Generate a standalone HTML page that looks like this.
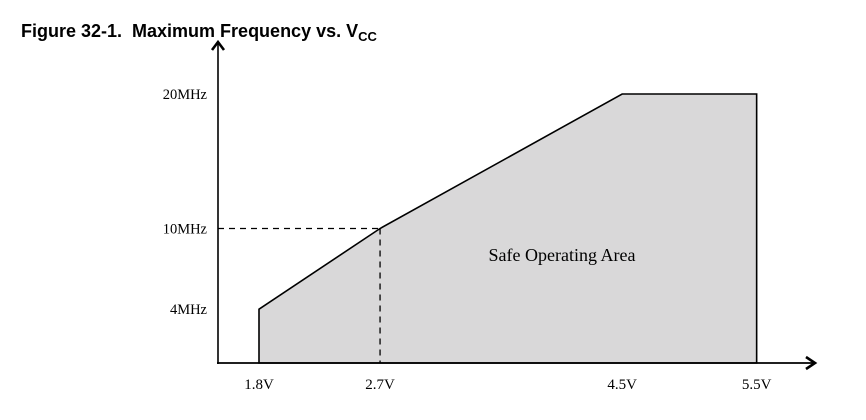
<!DOCTYPE html>
<html><head><meta charset="utf-8"><style>
body{margin:0;background:#fff;width:866px;height:420px;overflow:hidden}
svg{display:block}
</style></head><body>
<svg width="866" height="420">
<text x="21" y="37" font-family="Liberation Sans, sans-serif" font-weight="bold" font-size="18" fill="#000">Figure 32-1.&#160; Maximum Frequency vs. V<tspan font-size="13" dy="4">CC</tspan></text>
<g id="plot"></g>
</svg>
<script>
const voltages=[1.8,2.7,4.5,5.5];
const freqs=[4,10,20,20];
const xTickLabels=["1.8V","2.7V","4.5V","5.5V"];
const yTicks=[4,10,20];
const yTickLabels=["4MHz","10MHz","20MHz"];
const NS="http://www.w3.org/2000/svg";
const X=v=>259+(v-1.8)*134.5;
const Y=f=>363-f*13.45;
const g=document.getElementById('plot');
function mk(t,a){const e=document.createElementNS(NS,t);for(const k in a)e.setAttribute(k,a[k]);g.appendChild(e);return e;}
let pts=[[X(voltages[0]),Y(0)]];
voltages.forEach((v,i)=>pts.push([X(v),Y(freqs[i])]));
pts.push([X(voltages[voltages.length-1]),Y(0)]);
const area=mk('polygon',{points:pts.map(p=>p.join(',')).join(' '),fill:'#d9d8d9',stroke:'#000','stroke-width':1.6});


const dh=mk('line',{x1:218,y1:Y(10),x2:X(2.7),y2:Y(10),stroke:'#000','stroke-width':1.3,'stroke-dasharray':'6,5'});


const dv=mk('line',{x1:X(2.7),y1:Y(10),x2:X(2.7),y2:Y(0),stroke:'#000','stroke-width':1.3,'stroke-dasharray':'6,5'});


const ya=mk('line',{x1:218,y1:Y(0)+1,x2:218,y2:43,stroke:'#000','stroke-width':1.6});


const yah=mk('path',{d:'M212,50 L218,42 L224,50',fill:'none',stroke:'#000','stroke-width':2.6});


const xa=mk('line',{x1:217,y1:Y(0),x2:814,y2:Y(0),stroke:'#000','stroke-width':1.8});


const xah=mk('path',{d:'M806,357 L815,363 L806,369',fill:'none',stroke:'#000','stroke-width':2.6});


yTicks.forEach((f,i)=>{const t=mk('text',{x:207,y:Y(f)+5,'text-anchor':'end','font-family':'Liberation Serif, serif','font-size':14.5});t.textContent=yTickLabels[i];

});
voltages.forEach((v,i)=>{const t=mk('text',{x:X(v),y:389,'text-anchor':'middle','font-family':'Liberation Serif, serif','font-size':15});t.textContent=xTickLabels[i];

});
const lab=mk('text',{x:562,y:261,'text-anchor':'middle','font-family':'Liberation Serif, serif','font-size':18});
lab.textContent='Safe Operating Area';


</script>
</body></html>
